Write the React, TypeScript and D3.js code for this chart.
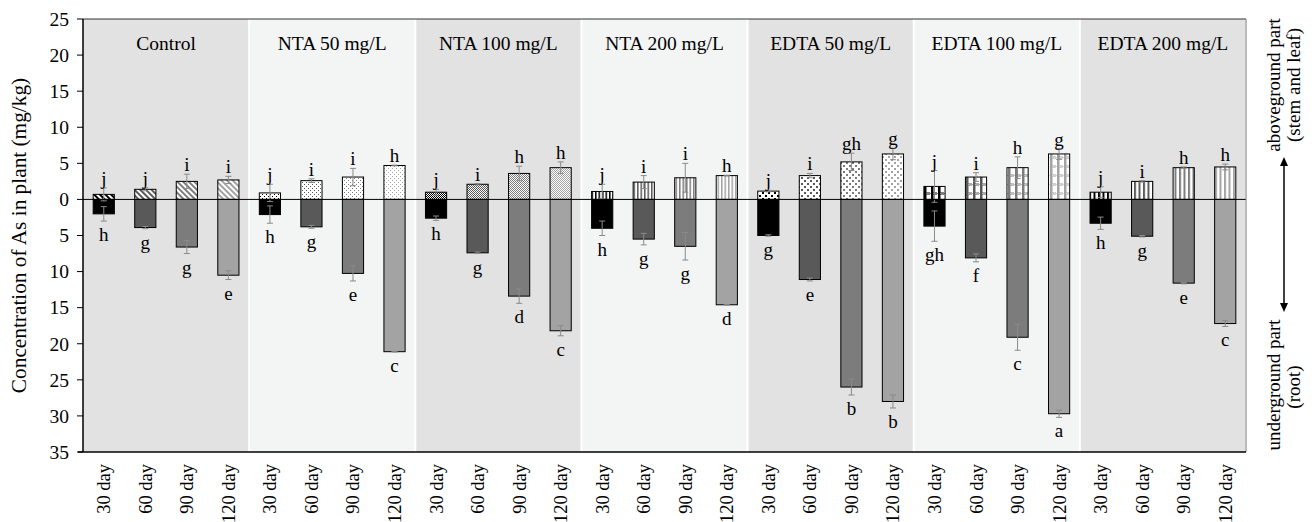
import React from 'react';
import * as d3 from 'd3';

const treatments = ['Control', 'NTA 50 mg/L', 'NTA 100 mg/L', 'NTA 200 mg/L', 'EDTA 50 mg/L', 'EDTA 100 mg/L', 'EDTA 200 mg/L'];
const days = ['30 day', '60 day', '90 day', '120 day'];
const aboveground = [
  [0.7, 1.4, 2.5, 2.7],
  [0.9, 2.6, 3.1, 4.7],
  [1.0, 2.1, 3.6, 4.4],
  [1.1, 2.4, 3.0, 3.3],
  [1.15, 3.3, 5.2, 6.3],
  [1.8, 3.1, 4.4, 6.3],
  [1.0, 2.5, 4.4, 4.5],
];
const abovegroundSD = [
  [0.9, 0.2, 1.0, 0.5],
  [1.2, 0.25, 1.2, 0.05],
  [0.4, 0.1, 1.0, 0.8],
  [1.0, 0.9, 2.0, 0.05],
  [0.1, 0.3, 1.2, 0.8],
  [2.2, 0.6, 1.5, 0.75],
  [0.75, 0.1, 0.1, 0.4],
];
const underground = [
  [2.0, 3.9, 6.6, 10.5],
  [2.1, 3.8, 10.25, 21.1],
  [2.6, 7.4, 13.4, 18.2],
  [4.0, 5.5, 6.5, 14.6],
  [5.0, 11.1, 26.0, 28.0],
  [3.7, 8.1, 19.1, 29.7],
  [3.3, 5.1, 11.6, 17.2],
];
const undergroundSD = [
  [1.0, 0.15, 0.9, 0.6],
  [1.2, 0.2, 1.05, 0.05],
  [0.3, 0.1, 1.0, 0.7],
  [1.0, 0.8, 1.9, 0.05],
  [0.1, 0.2, 1.1, 0.9],
  [2.1, 0.55, 1.8, 0.5],
  [0.85, 0.1, 0.1, 0.4],
];
const lettersAbove = [
  ['j', 'j', 'i', 'i'],
  ['j', 'i', 'i', 'h'],
  ['j', 'i', 'h', 'h'],
  ['j', 'i', 'i', 'h'],
  ['j', 'i', 'gh', 'g'],
  ['j', 'i', 'h', 'g'],
  ['j', 'i', 'h', 'h'],
];
const lettersBelow = [
  ['h', 'g', 'g', 'e'],
  ['h', 'g', 'e', 'c'],
  ['h', 'g', 'd', 'c'],
  ['h', 'g', 'g', 'd'],
  ['g', 'e', 'b', 'b'],
  ['gh', 'f', 'c', 'a'],
  ['h', 'g', 'e', 'c'],
];
const yTicks = [25, 20, 15, 10, 5, 0, -5, -10, -15, -20, -25, -30, -35];
const yTitle = 'Concentration of As in plant (mg/kg)';

const dayColors = ['#000000', '#595959', '#7c7c7c', '#a3a3a3'];
const FONT = '"Liberation Serif", "Times New Roman", serif';

const W = 1312, H = 522;
const left = 83, right = 1246, top = 19, bottom = 452;

function Pattern({ id, kind, fg }: { id: string; kind: number; fg: string }) {
  switch (kind) {
    case 0:
      return (
        <pattern id={id} patternUnits="userSpaceOnUse" width={4} height={4} patternTransform="rotate(-45)">
          <rect width={4} height={4} fill="#fff" />
          <rect width={2} height={4} fill={fg} />
        </pattern>
      );
    case 1:
      return (
        <pattern id={id} patternUnits="userSpaceOnUse" width={4} height={4}>
          <rect width={4} height={4} fill="#fff" />
          <rect x={0} y={0} width={1} height={1} fill={fg} />
          <rect x={2} y={2} width={1} height={1} fill={fg} />
        </pattern>
      );
    case 2:
      return (
        <pattern id={id} patternUnits="userSpaceOnUse" width={2} height={2}>
          <rect width={2} height={2} fill="#fff" />
          <rect x={0} y={0} width={1} height={1} fill={fg} />
          <rect x={1} y={1} width={1} height={1} fill={fg} />
        </pattern>
      );
    case 3:
      return (
        <pattern id={id} patternUnits="userSpaceOnUse" width={3.5} height={4}>
          <rect width={3.5} height={4} fill="#fff" />
          <rect x={0} width={1.5} height={4} fill={fg} />
        </pattern>
      );
    case 4:
      return (
        <pattern id={id} patternUnits="userSpaceOnUse" width={6} height={6}>
          <rect width={6} height={6} fill="#fff" />
          <rect x={0} y={0} width={2} height={2} fill={fg} />
          <rect x={3} y={3} width={2} height={2} fill={fg} />
        </pattern>
      );
    case 5:
      return (
        <pattern id={id} patternUnits="userSpaceOnUse" width={7} height={9}>
          <rect width={7} height={9} fill="#fff" />
          <rect x={0} y={0} width={2.5} height={9} fill={fg} />
          <rect x={2.5} y={3} width={1} height={1} fill={fg} />
          <rect x={4.5} y={3} width={1} height={1} fill={fg} />
          <rect x={3.5} y={4} width={1} height={1} fill={fg} />
          <rect x={5.5} y={4} width={1} height={1} fill={fg} />
          <rect x={2.5} y={5} width={1} height={1} fill={fg} />
          <rect x={4.5} y={5} width={1} height={1} fill={fg} />
        </pattern>
      );
    default:
      return (
        <pattern id={id} patternUnits="userSpaceOnUse" width={4.5} height={4}>
          <rect width={4.5} height={4} fill="#fff" />
          <rect x={0} width={2} height={4} fill={fg} />
        </pattern>
      );
  }
}

export default function App() {
  const y = d3.scaleLinear().domain([-35, 25]).range([bottom, top]);
  const x0 = d3.scaleBand<string>().domain(treatments).range([left, right]);
  const x1 = d3.scaleBand<string>().domain(days).range([0, x0.bandwidth()]).paddingInner(0.49).paddingOuter(0.245);
  const bw = x1.bandwidth();
  const y0 = y(0);

  return (
    <svg width={W} height={H} style={{ position: 'absolute', left: 0, top: 0 }} fontFamily={FONT}>
      <defs>
        {treatments.map((t, ti) =>
          days.map((d, di) => <Pattern key={`${ti}-${di}`} id={`p${ti}-${di}`} kind={ti} fg={dayColors[di]} />)
        )}
      </defs>
      <rect width={W} height={H} fill="#fff" />
      {treatments.map((t, ti) => (
        <rect
          key={t}
          x={x0(t)! + (ti > 0 ? 1 : 0)}
          y={top}
          width={x0.bandwidth() - (ti > 0 ? 2 : 1)}
          height={bottom - top}
          fill={ti % 2 === 0 ? '#e2e2e2' : '#f3f4f4'}
        />
      ))}
      {treatments.map((t) => (
        <text key={t} x={x0(t)! + x0.bandwidth() / 2} y={50} textAnchor="middle" fontSize={19.5} fill="#000">
          {t}
        </text>
      ))}
      {treatments.map((t, ti) =>
        days.map((d, di) => {
          const cx = x0(t)! + x1(d)!;
          const mid = cx + bw / 2;
          const a = aboveground[ti][di];
          const as = abovegroundSD[ti][di];
          const u = underground[ti][di];
          const us = undergroundSD[ti][di];
          return (
            <g key={`${t}-${d}`}>
              <rect x={cx} y={y(a)} width={bw} height={y0 - y(a)} fill={`url(#p${ti}-${di})`} stroke="#000" strokeWidth={1} />
              <rect x={cx} y={y0} width={bw} height={y(-u) - y0} fill={dayColors[di]} stroke="#000" strokeWidth={1} />
              <g stroke="#8a8a8a" strokeWidth={1}>
                <line x1={mid} x2={mid} y1={y(a + as)} y2={y(a - as)} />
                <line x1={mid - 3} x2={mid + 3} y1={y(a + as)} y2={y(a + as)} />
                <line x1={mid - 3} x2={mid + 3} y1={y(a - as)} y2={y(a - as)} />
                <line x1={mid} x2={mid} y1={y(-u + us)} y2={y(-u - us)} />
                <line x1={mid - 3} x2={mid + 3} y1={y(-u + us)} y2={y(-u + us)} />
                <line x1={mid - 3} x2={mid + 3} y1={y(-u - us)} y2={y(-u - us)} />
              </g>
              <text x={mid} y={y(a + as) - 3} textAnchor="middle" fontSize={19}>
                {lettersAbove[ti][di]}
              </text>
              <text x={mid} y={y(-u - us) + 20} textAnchor="middle" fontSize={19}>
                {lettersBelow[ti][di]}
              </text>
            </g>
          );
        })
      )}
      <line x1={left} x2={right} y1={y0} y2={y0} stroke="#000" strokeWidth={1} />
      <line x1={left} x2={right} y1={top} y2={top} stroke="#333" strokeWidth={1} />
      <line x1={right} x2={right} y1={top} y2={bottom} stroke="#777" strokeWidth={1} />
      <line x1={left} x2={left} y1={top} y2={bottom} stroke="#000" strokeWidth={1.5} />
      <line x1={left - 5} x2={right} y1={bottom} y2={bottom} stroke="#000" strokeWidth={1.5} />
      {yTicks.map((v) => (
        <g key={v}>
          <line x1={left - 6} x2={left} y1={y(v)} y2={y(v)} stroke="#000" strokeWidth={1} />
          <text x={left - 14} y={y(v)} dy="0.35em" textAnchor="end" fontSize={19.5}>
            {Math.abs(v)}
          </text>
        </g>
      ))}
      {treatments.map((t) =>
        days.map((d) => {
          const mid = x0(t)! + x1(d)! + bw / 2;
          return (
            <text key={`${t}-${d}`} transform={`translate(${mid + 6.5},464) rotate(-90)`} textAnchor="end" fontSize={18.5}>
              {d}
            </text>
          );
        })
      )}
      <text transform={`translate(26,${(top + bottom) / 2}) rotate(-90)`} textAnchor="middle" fontSize={21.3}>
        {yTitle}
      </text>
      <text transform="translate(1280,85) rotate(-90)" textAnchor="middle" fontSize={19}>aboveground part</text>
      <text transform="translate(1300,85) rotate(-90)" textAnchor="middle" fontSize={19}>(stem and leaf)</text>
      <text transform="translate(1280,385) rotate(-90)" textAnchor="middle" fontSize={19}>underground part</text>
      <text transform="translate(1300,387) rotate(-90)" textAnchor="middle" fontSize={19}>(root)</text>
      <line x1={1284} x2={1284} y1={163} y2={306} stroke="#000" strokeWidth={1.5} />
      <path d="M1284,157 L1280,166 L1288,166 Z" fill="#000" />
      <path d="M1284,312 L1280,303 L1288,303 Z" fill="#000" />
    </svg>
  );
}
